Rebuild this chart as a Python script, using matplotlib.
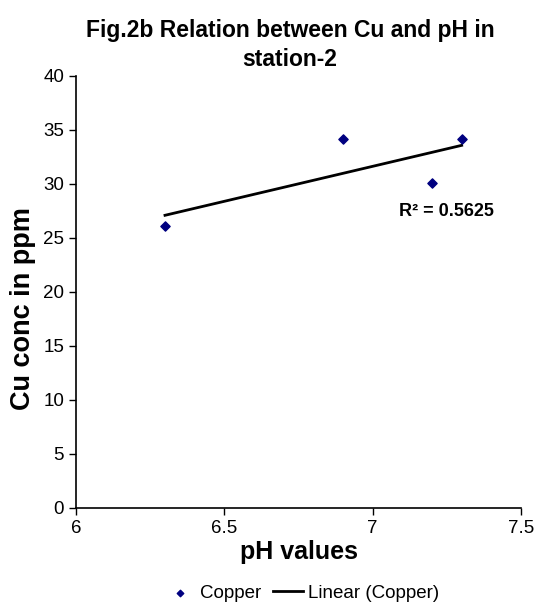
import matplotlib
matplotlib.use("Agg")
import matplotlib.pyplot as plt
import numpy as np
from matplotlib import font_manager

names = {f.name for f in font_manager.fontManager.ttflist}
fam = "Liberation Sans Narrow" if "Liberation Sans Narrow" in names else "Liberation Sans"
plt.rcParams['font.family'] = [fam, 'DejaVu Sans']

ph = [6.3, 6.9, 7.2, 7.3]
cu = [26.1, 34.2, 30.1, 34.2]
xticks = [6, 6.5, 7, 7.5]
yticks = [0, 5, 10, 15, 20, 25, 30, 35, 40]

fig = plt.figure(figsize=(5.36, 6.06), dpi=100)
ax = fig.add_axes([76/536, 1-508/606, (521-76)/536, (508-76)/606])

ax.scatter(ph, cu, marker='D', s=22, color='#000080', zorder=3, label='Copper')
x = np.array(ph)
y = np.array(cu)
m, b = np.polyfit(x, y, 1)
xl = np.array([min(ph), max(ph)])
ax.plot(xl, m*xl + b, color='black', lw=2, label='Linear (Copper)')

ax.text(7.25, 27.5, "R² = 0.5625", ha='center', va='center', fontsize=13, fontweight='bold')

ax.set_xlim(6, 7.5)
ax.set_ylim(0, 40)
ax.set_xticks(xticks)
ax.set_xticklabels([str(t) for t in xticks])
ax.set_yticks(yticks)
ax.tick_params(direction='out', length=5, labelsize=13.5, width=1)
for s in ['top', 'right']:
    ax.spines[s].set_visible(False)
for s in ['left', 'bottom']:
    ax.spines[s].set_linewidth(1.2)

ax.set_xlabel("pH values", fontsize=18, fontweight='bold', labelpad=2)
ax.set_ylabel("Cu conc in ppm", fontsize=19.5, fontweight='bold')
ax.yaxis.set_label_coords(-0.09, (508-309)/432)
fig.text(290/536, 1-45/606, "Fig.2b Relation between Cu and pH in\nstation-2", ha='center', va='center',
         fontsize=16.5, fontweight='bold', linespacing=1.3)

leg = fig.legend(loc='center', bbox_to_anchor=(302/536, 1-593/606), ncol=2, frameon=False,
                 fontsize=13.5, handlelength=1.6, columnspacing=0.6, handletextpad=0.3, markerscale=0.7)

fig.savefig("out.png", dpi=100)
